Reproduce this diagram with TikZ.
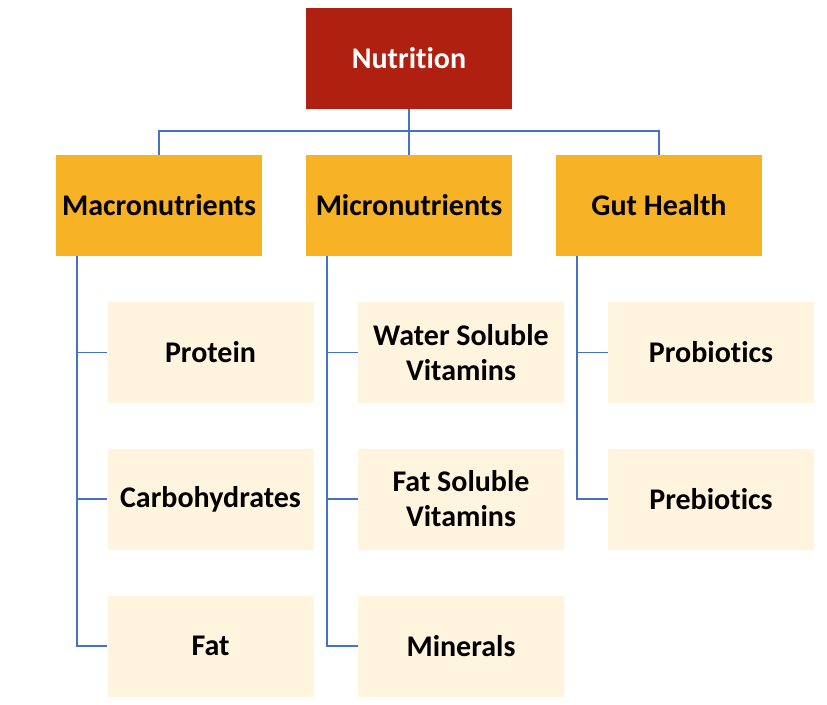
\documentclass[tikz,border=0pt]{standalone}
\usepackage{fontspec}
\setmainfont{Carlito}[Ligatures=NoCommon]
\definecolor{topred}{HTML}{B02010}
\definecolor{midorange}{HTML}{F8B226}
\definecolor{leafcream}{HTML}{FFF5DF}
\definecolor{linkblue}{HTML}{4472C4}
\begin{document}
\begin{tikzpicture}[x=1pt,y=-1pt,
  boxbase/.style={minimum width=206pt,minimum height=101pt,inner sep=0pt,align=center,
    font=\fontsize{30}{35}\selectfont\bfseries},
  topbox/.style={boxbase,fill=topred,text=white},
  midbox/.style={boxbase,fill=midorange,text=black},
  leafbox/.style={boxbase,fill=leafcream,text=black},
  link/.style={draw=linkblue,line width=1.2pt}]
\useasboundingbox (0,0) rectangle (827,704);
\node[topbox] (nut) at (409,58.5) {Nutrition};
\node[midbox] (mac) at (159,205.5) {Macronutrients};
\node[midbox] (mic) at (409,205.5) {Micronutrients};
\node[midbox] (gut) at (659,205.5) {Gut Health};
\node[leafbox] (pro) at (210.5,352.5) {Protein};
\node[leafbox] (car) at (210.5,499) {Carbohydrates};
\node[leafbox] (fat) at (210.5,646) {Fat};
\node[leafbox] (wsv) at (461,352.5) {Water Soluble\\Vitamins};
\node[leafbox] (fsv) at (461,499) {Fat Soluble\\Vitamins};
\node[leafbox] (min) at (461,646) {Minerals};
\node[leafbox] (prob) at (711,352.5) {Probiotics};
\node[leafbox] (preb) at (711,499) {Prebiotics};
\coordinate (hub) at (409,131);
\draw[link] (nut.south) -- (hub);
\draw[link] (mac.north) |- (hub) -| (gut.north);
\draw[link] (hub) -- (mic.north);
\foreach \p/\c in {mac/pro,mac/car,mac/fat,mic/wsv,mic/fsv,mic/min,gut/prob,gut/preb}{
  \draw[link] ([xshift=-82pt]\p.south) |- (\c.west);
}
\end{tikzpicture}
\end{document}
